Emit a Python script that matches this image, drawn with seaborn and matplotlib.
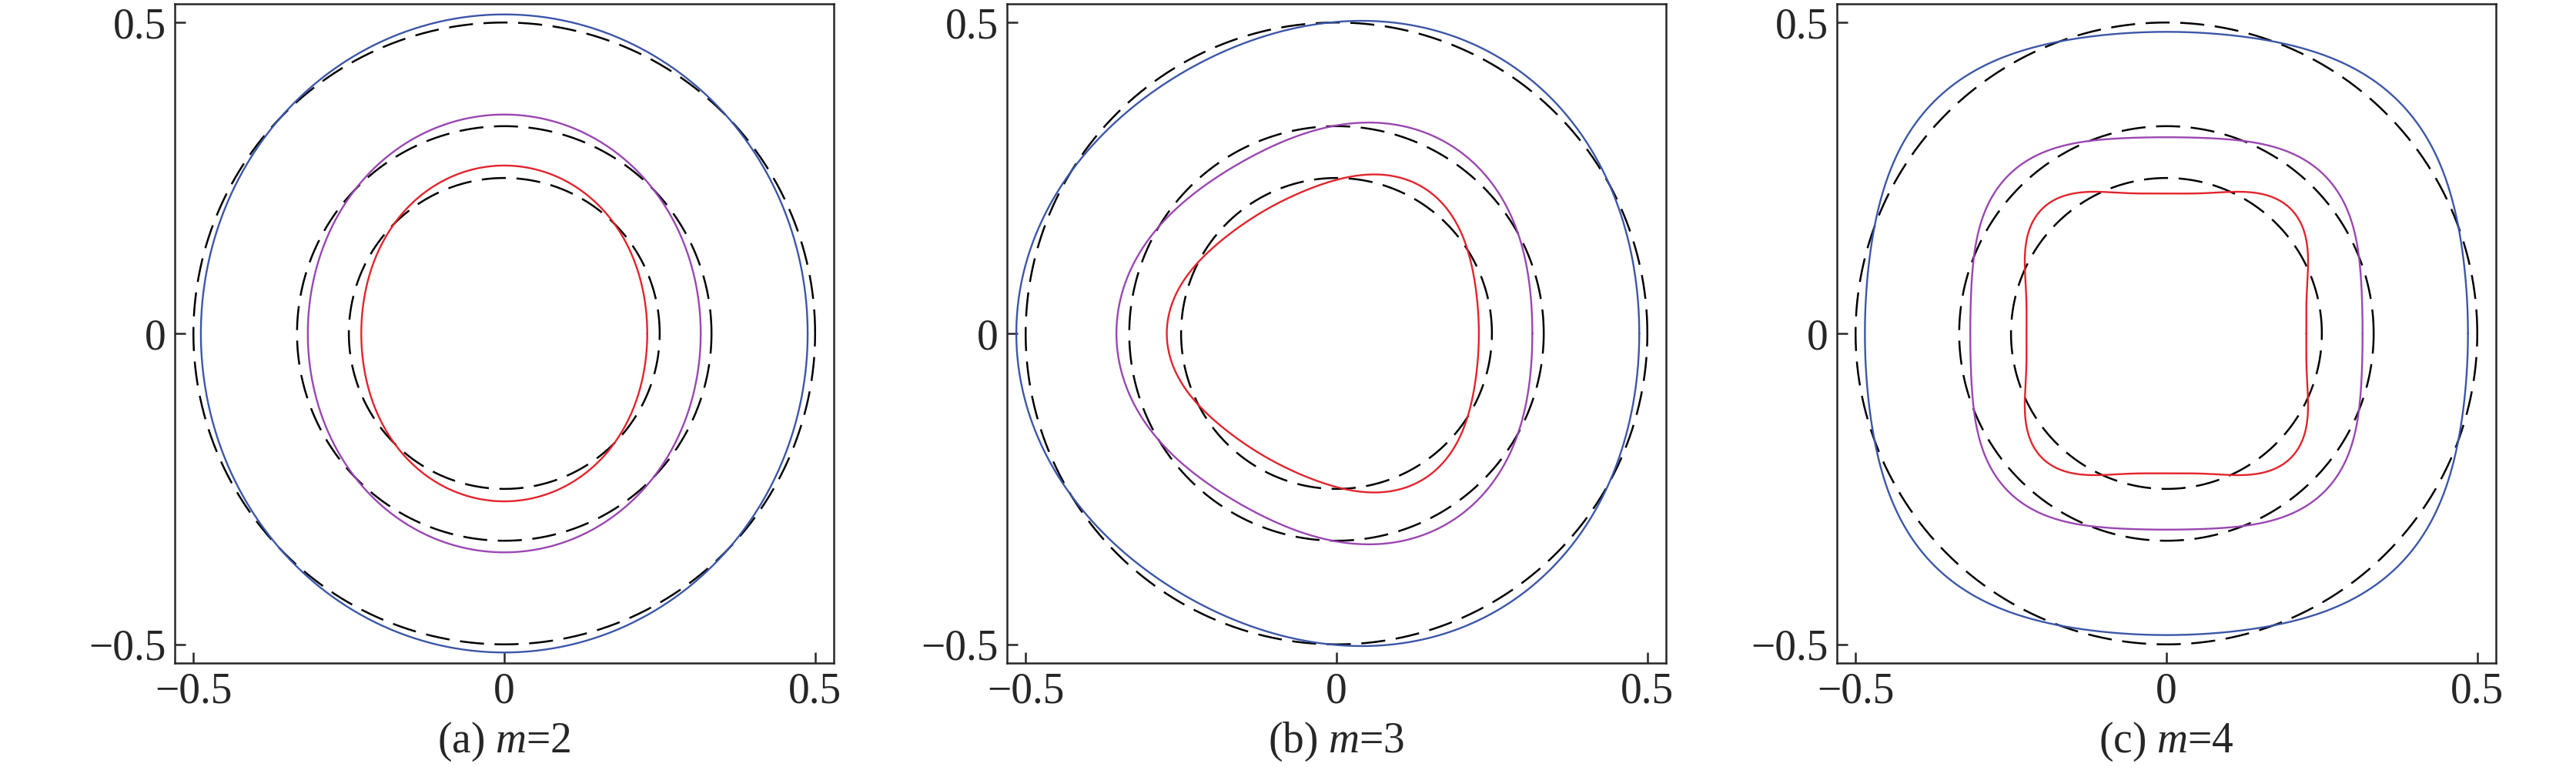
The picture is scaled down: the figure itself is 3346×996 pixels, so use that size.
import numpy as np
import pandas as pd
import matplotlib
matplotlib.use("Agg")
import matplotlib.pyplot as plt
import seaborn as sns

# values
modes = [2, 3, 4]
captions = ["(a) ", "(b) ", "(c) "]
ref_radii = [0.25, 1 / 3, 0.5]          # dashed reference circles
curve_colors = ["#3b56a8", "#9a45b2", "#e3232b"]   # outer, middle, inner

# r(theta) = r0 + a1*cos(m*theta) + a2*cos(2*m*theta), per panel, per curve (outer, middle, inner)
r0 = [[0.5005, 0.334, 0.25],
      [0.501, 0.3345, 0.249],
      [0.505, 0.336, 0.250]]
a1 = [[-0.0125, -0.018, -0.02],
      [-0.014, -0.0195, -0.022],
      [-0.0215, -0.022, -0.029]]
a2 = [[0.0, 0.0, 0.0],
      [0.0, 0.0, 0.002],
      [0.0015, 0.0015, 0.004]]
ticks = [-0.5, 0, 0.5]
tick_labels = ["\u22120.5", "0", "0.5"]

sns.set_style("ticks")
plt.rcParams["font.family"] = ["Liberation Serif", "DejaVu Serif"]
plt.rcParams["mathtext.fontset"] = "custom"
plt.rcParams["mathtext.it"] = "Liberation Serif:italic"
plt.rcParams["mathtext.rm"] = "Liberation Serif"

fig = plt.figure(figsize=(33.46, 9.96), dpi=100)
lefts = [227, 1308, 2386]
theta = np.linspace(0, 2 * np.pi, 721)

for i, m in enumerate(modes):
    ax = fig.add_axes([lefts[i] / 3346, 135 / 996, 856 / 3346, 856 / 996])
    for r in ref_radii:
        ax.plot(r * np.cos(theta), r * np.sin(theta), color="black", lw=1.8,
                dashes=(12.5, 5.5))
    for j in range(3):
        rr = r0[i][j] + a1[i][j] * np.cos(m * theta) + a2[i][j] * np.cos(2 * m * theta)
        df = pd.DataFrame({"x": rr * np.cos(theta), "y": rr * np.sin(theta)})
        sns.lineplot(data=df, x="x", y="y", sort=False, estimator=None,
                     color=curve_colors[j], lw=1.7, ax=ax)
    ax.set_xlim(-0.53, 0.53)
    ax.set_ylim(-0.53, 0.53)
    ax.set_xticks(ticks)
    ax.set_yticks(ticks)
    ax.set_xticklabels(tick_labels)
    ax.set_yticklabels(tick_labels)
    ax.tick_params(direction="in", length=10, width=1.8, labelsize=40, pad=8)
    for s in ax.spines.values():
        s.set_linewidth(1.8)
    ax.set_xlabel("")
    ax.set_ylabel("")
    ax.text(0.5, -0.12, captions[i] + "$m$=" + str(m), transform=ax.transAxes,
            ha="center", va="center", fontsize=40)

fig.savefig("out.png", dpi=100)
